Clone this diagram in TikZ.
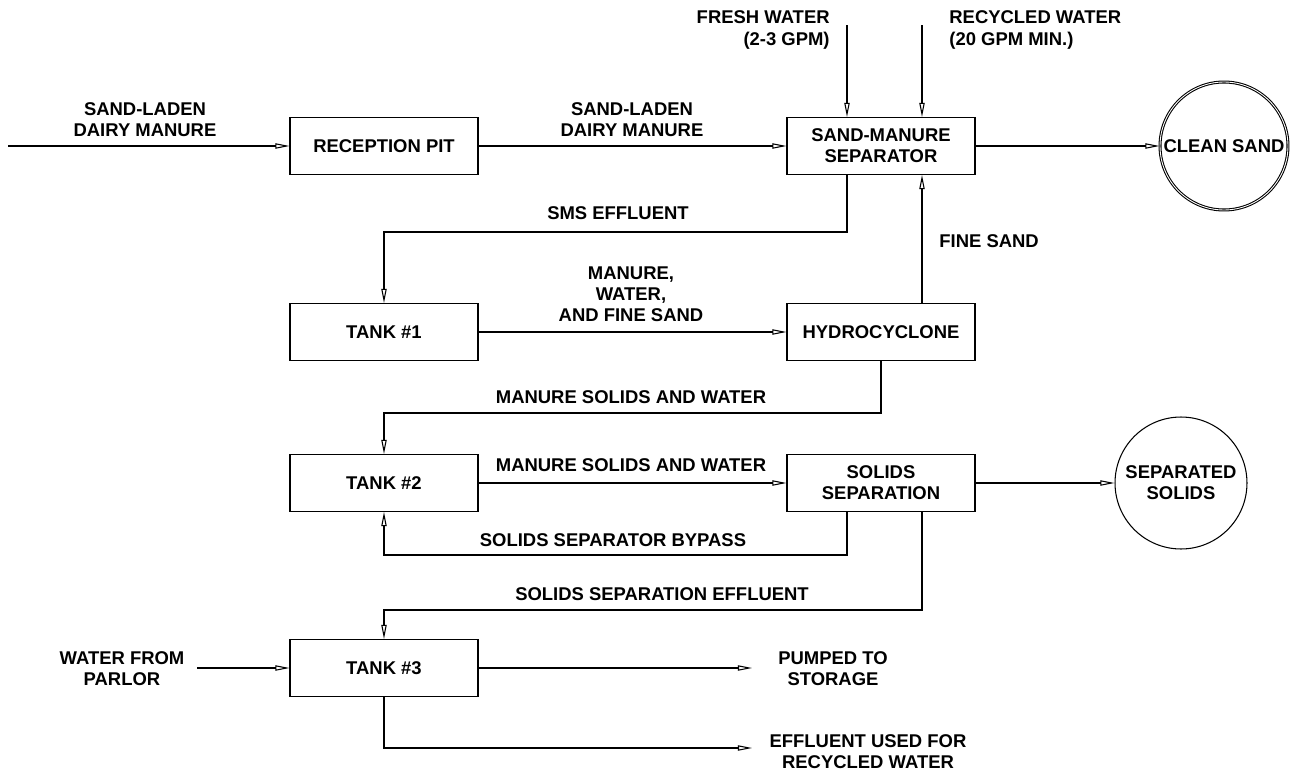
\documentclass[tikz,border=0pt]{standalone}
\usepackage{fontspec}
\setmainfont{Liberation Sans}
\usetikzlibrary{arrows.meta}

\begin{document}
\begin{tikzpicture}[x=0.02cm,y=-0.02cm,line width=0.6pt,
    >={Triangle[open,length=8pt,width=3pt]},
    every node/.style={font=\fontsize{10.5}{12}\selectfont\bfseries},
    unit/.style={draw,minimum width=3.76cm,minimum height=1.14cm,align=center},
    sink/.style={draw,circle,inner sep=0pt,align=center},
    tag/.style={align=center}]
    \useasboundingbox (0,0) rectangle (1296,774);
    % process units
    \node[unit] (pit) at (384,146) {RECEPTION PIT};
    \node[unit] (sep) at (881,146) {SAND-MANURE\\SEPARATOR};
    \node[unit] (tank1) at (384,332) {TANK \#1};
    \node[unit] (hyd) at (881,332) {HYDROCYCLONE};
    \node[unit] (tank2) at (384,483) {TANK \#2};
    \node[unit] (ssep) at (881,483) {SOLIDS\\SEPARATION};
    \node[unit] (tank3) at (384,668) {TANK \#3};
    \node[sink,double,double distance=0.5pt,minimum size=2.56cm] (sand) at (1224,146) {CLEAN SAND};
    \node[sink,minimum size=2.64cm] (solids) at (1181,483) {SEPARATED\\SOLIDS};
    % free ends
    \coordinate (manure) at (8,146);
    \coordinate (fresh) at (847,25);
    \coordinate (recyc) at (922,25);
    \coordinate (parlor) at (197,668);
    \coordinate (storage) at (752,668);
    \coordinate (reuse) at (752,748);
    % flows
    \draw[->] (manure) -- (pit);
    \draw[->] (pit) -- (sep);
    \draw[->] (fresh) -- (fresh |- sep.north);
    \draw[->] (recyc) -- (recyc |- sep.north);
    \draw[->] (sep) -- (sand);
    \draw[->] (fresh |- sep.south) -- ++(0,57) -| (tank1.north);
    \draw[->] (recyc |- hyd.north) -- (recyc |- sep.south);
    \draw[->] (tank1) -- (hyd);
    \draw[->] (hyd.south) -- ++(0,52) -| (tank2.north);
    \draw[->] (tank2) -- (ssep);
    \draw[->] (ssep) -- (solids);
    \draw[->] (fresh |- ssep.south) -- ++(0,43) -| (tank2.south);
    \draw[->] (recyc |- ssep.south) -- ++(0,98) -| (tank3.north);
    \draw[->] (parlor) -- (tank3);
    \draw[->] (tank3) -- (storage);
    \draw[->] (tank3.south) |- (reuse);
    % stream labels
    \node[tag] (lmanure) at (145,120) {SAND-LADEN\\DAIRY MANURE};
    \node[tag] (lpit) at (632,120) {SAND-LADEN\\DAIRY MANURE};
    \node[tag,align=right,anchor=east] (lfresh) at (836,30) {FRESH WATER\\(2-3 GPM)};
    \node[tag,align=left,anchor=west] (lrecyc) at (943,30) {RECYCLED WATER\\(20 GPM MIN.)};
    \node (lsms) at (618,213) {SMS EFFLUENT};
    \node[anchor=west] (lfine) at (933,241) {FINE SAND};
    \node[tag] (lmix) at (631,294) {MANURE,\\WATER,\\AND FINE SAND};
    \node (lhyd) at (631,397) {MANURE SOLIDS AND WATER};
    \node (lt2) at (631,465) {MANURE SOLIDS AND WATER};
    \node (lbyp) at (613,540) {SOLIDS SEPARATOR BYPASS};
    \node (leff) at (662,594) {SOLIDS SEPARATION EFFLUENT};
    \node[tag] (lparlor) at (122,669) {WATER FROM\\PARLOR};
    \node[tag] (lstore) at (833,669) {PUMPED TO\\STORAGE};
    \node[tag] (lreuse) at (868,752) {EFFLUENT USED FOR\\RECYCLED WATER};
\end{tikzpicture}
\end{document}
